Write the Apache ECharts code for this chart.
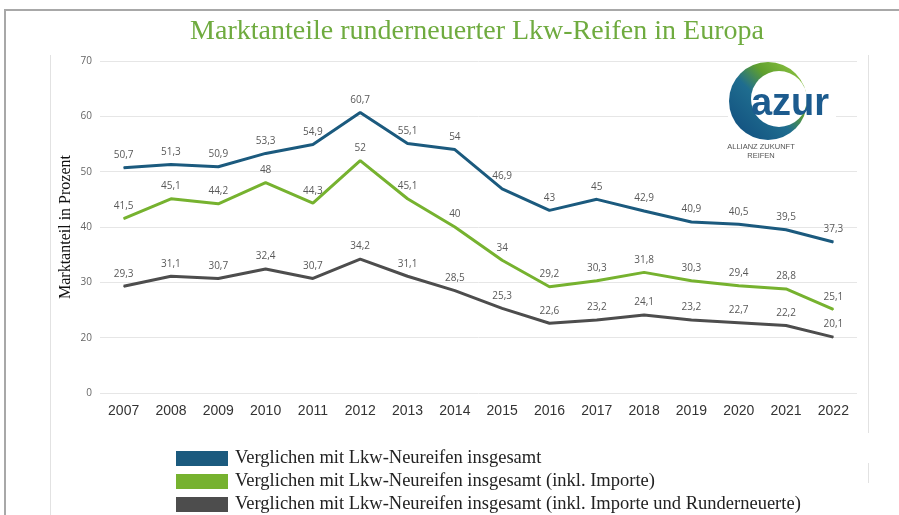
<!DOCTYPE html>
<html>
<head>
<meta charset="utf-8">
<script src="https://cdn.jsdelivr.net/npm/echarts@6/dist/echarts.min.js"></script>
<style>
  html, body { margin: 0; padding: 0; background: #fff; }
  #chart { width: 899px; height: 515px; }
</style>
</head>
<body>
<div id="chart"></div>
<script>
// Jahre
var years = ['2007', '2008', '2009', '2010', '2011', '2012', '2013', '2014', '2015', '2016', '2017', '2018', '2019', '2020', '2021', '2022'];

// Marktanteile in Prozent
var neureifen = [50.7, 51.3, 50.9, 53.3, 54.9, 60.7, 55.1, 54, 46.9, 43, 45, 42.9, 40.9, 40.5, 39.5, 37.3];
var inklImporte = [41.5, 45.1, 44.2, 48, 44.3, 52, 45.1, 40, 34, 29.2, 30.3, 31.8, 30.3, 29.4, 28.8, 25.1];
var inklRunderneuerte = [29.3, 31.1, 30.7, 32.4, 30.7, 34.2, 31.1, 28.5, 25.3, 22.6, 23.2, 24.1, 23.2, 22.7, 22.2, 20.1];

var seriesNames = [
    'Verglichen mit Lkw-Neureifen insgesamt',
    'Verglichen mit Lkw-Neureifen insgesamt (inkl. Importe)',
    'Verglichen mit Lkw-Neureifen insgesamt (inkl. Importe und Runderneuerte)'
];

// y-Achse: unterste Linie ist im Original mit "0" beschriftet
var yTicks = [10, 20, 30, 40, 50, 60, 70];
var yTickLabels = ['0', '20', '30', '40', '50', '60', '70'];

var colors = ['#1b5a7e', '#76b22f', '#4d4d4d'];

var chart = echarts.init(document.getElementById('chart'), null, { renderer: 'canvas' });

function makeSeries(name, data, color) {
    return {
        name: name,
        type: 'line',
        data: data,
        symbol: 'circle',
        symbolSize: 1,
        itemStyle: { color: color },
        lineStyle: { color: color, width: 3 },
        label: {
            show: true,
            position: 'top',
            distance: 7,
            fontSize: 10,
            color: '#595959',
            fontFamily: 'Open Sans',
            formatter: function (p) { return String(p.value).replace('.', ','); }
        },
        emphasis: { disabled: true }
    };
}

// eine Legende pro Zeile, damit nichts umbricht
function makeLegend(name, top) {
    return {
        left: 176,
        top: top,
        icon: 'rect',
        itemWidth: 52,
        itemHeight: 15,
        padding: 0,
        selectedMode: false,
        data: [name],
        textStyle: {
            fontFamily: 'Liberation Serif',
            fontSize: 18.5,
            color: '#222',
            padding: [0, 0, 0, 2]
        }
    };
}

var option = {
    backgroundColor: '#fff',
    animation: false,
    title: {
        text: 'Marktanteile runderneuerter Lkw-Reifen in Europa',
        left: 472,
        textAlign: 'center',
        top: 13,
        textStyle: {
            fontFamily: 'Liberation Serif',
            fontWeight: 'normal',
            fontSize: 28,
            color: '#6fab3f'
        }
    },
    legend: [
        makeLegend(seriesNames[0], 449),
        makeLegend(seriesNames[1], 472),
        makeLegend(seriesNames[2], 495)
    ],
    grid: {
        left: 100,
        right: 42,
        top: 61,
        bottom: 122
    },
    xAxis: {
        type: 'category',
        data: years,
        boundaryGap: true,
        axisLine: { show: false },
        axisTick: { show: false },
        axisLabel: {
            fontSize: 14,
            color: '#333',
            fontFamily: 'Liberation Sans',
            margin: 11
        }
    },
    yAxis: {
        type: 'value',
        min: 10,
        max: 70,
        interval: 10,
        name: 'Marktanteil in Prozent',
        nameLocation: 'middle',
        nameGap: 26,
        nameMoveOverlap: false,
        nameTextStyle: {
            fontFamily: 'Liberation Serif',
            fontSize: 16,
            color: '#111'
        },
        axisLine: { show: false },
        axisTick: { show: false },
        splitLine: { lineStyle: { color: '#e6e6e6', width: 1 } },
        axisLabel: {
            fontSize: 10,
            color: '#666',
            fontFamily: 'Open Sans',
            margin: 8,
            formatter: function (v) {
                var i = yTicks.indexOf(v);
                return i >= 0 ? yTickLabels[i] : '';
            }
        }
    },
    series: [
        makeSeries(seriesNames[0], neureifen, colors[0]),
        makeSeries(seriesNames[1], inklImporte, colors[1]),
        makeSeries(seriesNames[2], inklRunderneuerte, colors[2])
    ],
    graphic: [
        // Rahmen
        {
            type: 'rect', z: 1, silent: true,
            shape: { x: 5, y: 10, width: 910, height: 530 },
            style: { fill: 'none', stroke: '#a8a8a8', lineWidth: 2 }
        },
        {
            type: 'line', z: 1, silent: true,
            shape: { x1: 50.5, y1: 55, x2: 50.5, y2: 515 },
            style: { stroke: '#e2e2e2', lineWidth: 1 }
        },
        {
            type: 'line', z: 1, silent: true,
            shape: { x1: 868.5, y1: 55, x2: 868.5, y2: 433 },
            style: { stroke: '#e2e2e2', lineWidth: 1 }
        },
        {
            type: 'line', z: 1, silent: true,
            shape: { x1: 868.5, y1: 463, x2: 868.5, y2: 483 },
            style: { stroke: '#e2e2e2', lineWidth: 1 }
        },
        // Logo
        {
            type: 'rect', z: 10, silent: true,
            shape: { x: 728, y: 64, width: 108, height: 104 },
            style: { fill: '#fff' }
        },
        {
            type: 'circle', z: 11, silent: true,
            shape: { cx: 768, cy: 101, r: 39 },
            style: {
                fill: new echarts.graphic.LinearGradient(1, 0, 0, 1, [
                    { offset: 0, color: '#9acd46' },
                    { offset: 0.35, color: '#5f9f2e' },
                    { offset: 0.55, color: '#1f6d8f' },
                    { offset: 1, color: '#0f4a7c' }
                ])
            }
        },
        {
            type: 'circle', z: 12, silent: true,
            shape: { cx: 779, cy: 99, r: 28 },
            style: { fill: '#fff' }
        },
        {
            type: 'text', z: 13, silent: true,
            style: {
                text: 'azur', x: 790, y: 105,
                align: 'center', verticalAlign: 'middle',
                fontFamily: 'Liberation Sans', fontWeight: 'bold', fontSize: 38,
                fill: '#1c5b8e'
            }
        },
        {
            type: 'text', z: 13, silent: true,
            style: {
                text: 'ALLIANZ ZUKUNFT', x: 761, y: 147,
                align: 'center', verticalAlign: 'middle',
                fontFamily: 'Liberation Sans', fontSize: 7.5, fill: '#555'
            }
        },
        {
            type: 'text', z: 13, silent: true,
            style: {
                text: 'REIFEN', x: 761, y: 156,
                align: 'center', verticalAlign: 'middle',
                fontFamily: 'Liberation Sans', fontSize: 7.5, fill: '#555'
            }
        }
    ]
};

chart.setOption(option);
</script>
</body>
</html>
